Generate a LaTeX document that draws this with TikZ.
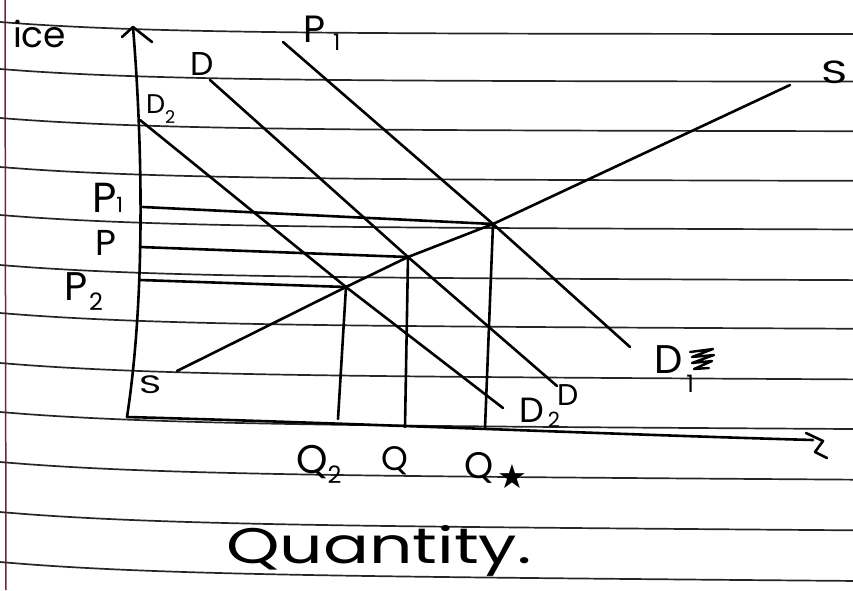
\documentclass[tikz,border=0pt]{standalone}
\usepackage{fontspec}
\usepackage{graphicx}
\setmainfont{Poppins}
\newfontfamily\symf{DejaVu Sans}
\definecolor{marginred}{RGB}{110,40,60}
\newcommand\hsub[3]{\raisebox{#1}{\scalebox{#2}{#3}}}
\newcommand\fs[1]{\fontsize{#1}{#1}\selectfont}
\begin{document}
\begin{tikzpicture}[x=1pt,y=-1pt,
  rule/.style={line width=1.7pt, black!85},
  ink/.style={line width=2.6pt, line cap=round, line join=round},
  lab/.style={anchor=base west, inner sep=0pt, outer sep=0pt}]
\useasboundingbox (0,0) rectangle (853,590);
\fill[white] (0,0) rectangle (853,590);
% margin line
\draw[line width=1.5pt, marginred] (5,0) -- (6,590);
% ruled paper lines
\foreach \yy in {22,69,118,167,215,265,313,363,412,462,512,562}{
  \pgfmathsetmacro\kk{(\yy-22)/540*7/853}
  \draw[rule] plot[domain=0:853, samples=30, smooth] (\x, {\yy + 12*(1-exp(-\x/150)) + \kk*\x});
}
% key coordinates
\coordinate (O) at (127,417);
\coordinate (Ytip) at (133,27);
\coordinate (Xtip) at (813,440);
\coordinate (E2) at (346,287);
\coordinate (E) at (408,257);
\coordinate (E1) at (493,224);
\coordinate (S0) at (177,371);
\coordinate (S1) at (790,85);
\coordinate (D2a) at (140,120);
\coordinate (D2b) at (503,408);
\coordinate (Da) at (210,80);
\coordinate (Db) at (557,386);
\coordinate (D1a) at (283,42);
\coordinate (D1b) at (630,347);
\coordinate (P1a) at (143,207);
\coordinate (Pa) at (140,247);
\coordinate (P2a) at (140,280);
\coordinate (Q2a) at (338,419);
\coordinate (Qa) at (405,427);
\coordinate (Q1a) at (485,428);
% axes
\draw[ink] (O) .. controls (145,300) and (143,150) .. (Ytip);
\draw[ink] (122,37) -- (Ytip) -- (152,42);
\draw[ink] (O) .. controls (350,423) and (600,434) .. (Xtip);
\draw[ink] (806,433) -- (823,441) -- (815,452) -- (827,458);
% supply
\draw[ink] (S0) -- (E2) -- (E) -- (E1) -- (S1);
% demand curves
\draw[ink] (D2a) -- (E2) -- (D2b);
\draw[ink] (Da) -- (E) -- (Db);
\draw[ink] (D1a) -- (E1) -- (D1b);
% price lines
\draw[ink] (P1a) -- (E1);
\draw[ink] (Pa) -- (E);
\draw[ink] (P2a) -- (E2);
% quantity lines
\draw[ink] (E2) -- (Q2a);
\draw[ink] (E) -- (Qa);
\draw[ink] (E1) -- (Q1a);
% labels
\node[lab, font=\fs{36}] (lice) at (13,47) {ice};
\node[lab, font=\fs{38}] (lP1top) at (303,42) {P\kern8pt\hsub{-8pt}{0.6}{1}};
\node[lab, font=\fs{33}] (lDtop) at (190,75) {D};
\node[lab, font=\fs{27}] (lD2top) at (146,113) {D\hsub{-10pt}{0.65}{2}};
\node[lab, font=\fs{32}] (lStop) at (821,83) {\scalebox{1.4}[1]{S}};
\node[lab, font=\fs{28}] (lSbot) at (139,393) {\scalebox{1.35}[0.9]{S}};
\node[lab, font=\fs{42}] (lP1) at (92,212) {P\hsub{0pt}{0.5}{1}};
\node[lab, font=\fs{36}] (lP) at (95,255) {P};
\node[lab, font=\fs{40}] (lP2) at (64,300) {P\kern2pt\hsub{-10pt}{0.6}{2}};
\node[lab, font=\fs{40}] (lD1) at (654,373) {D\kern4pt\hsub{-19pt}{0.6}{1}};
\draw[ink, line width=2.4pt] (690,352) -- (713,349) -- (692,357) -- (714,355) -- (692,363) -- (712,361) -- (694,369) -- (709,368);
\node[lab, font=\fs{30}] (lDbot) at (557,405) {D};
\node[lab, font=\fs{35}] (lD2bot) at (519,422) {D\kern4pt\hsub{-5pt}{0.6}{2}};
\node[lab, font=\fs{40}] (lQ2) at (296,473) {Q\hsub{-10pt}{0.6}{2}};
\node[lab, font=\fs{34}] (lQ) at (381,470) {Q};
\node[lab, font=\fs{37}] (lQs) at (464,478) {Q\kern4pt\hsub{-10pt}{0.9}{\symf ★}};
\node[lab, font=\fs{50}] (lQty) at (226,563) {\scalebox{1.36}[1]{Quantity.}};
\end{tikzpicture}
\end{document}
